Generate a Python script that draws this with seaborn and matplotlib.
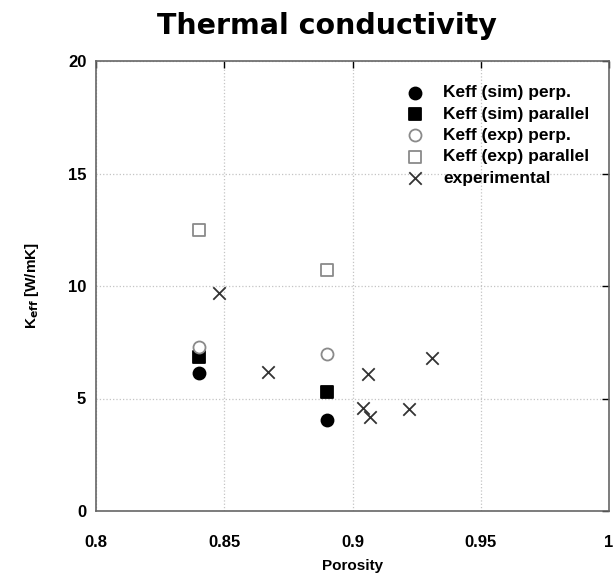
import matplotlib
matplotlib.use("Agg")
import matplotlib.pyplot as plt
import seaborn as sns
import pandas as pd

sim_perp_x = [0.84, 0.89]
sim_perp_y = [6.15, 4.05]
sim_par_x = [0.84, 0.89]
sim_par_y = [6.85, 5.3]
exp_perp_x = [0.84, 0.89]
exp_perp_y = [7.3, 7.0]
exp_par_x = [0.84, 0.89]
exp_par_y = [12.5, 10.7]
expt_x = [0.848, 0.867, 0.906, 0.904, 0.907, 0.922, 0.931]
expt_y = [9.7, 6.2, 6.1, 4.6, 4.2, 4.55, 6.8]

labels = ["Keff (sim) perp.", "Keff (sim) parallel", "Keff (exp) perp.",
          "Keff (exp) parallel", "experimental"]
xticks = [0.8, 0.85, 0.9, 0.95, 1.0]
xticklabels = ["0.8", "0.85", "0.9", "0.95", "1"]
yticks = [0, 5, 10, 15, 20]

sns.set_style("white")
plt.rcParams['font.family'] = ['Liberation Sans', 'DejaVu Sans']
plt.rcParams['text.color'] = 'black'
plt.rcParams['axes.labelcolor'] = 'black'

fig = plt.figure(figsize=(6.15, 5.8), dpi=100)
ax = fig.add_axes([96/615, 1 - 511/580, 513/615, 450/580])

series = [
    (sim_perp_x, sim_perp_y, "o", "black", "black", 75),
    (sim_par_x, sim_par_y, "s", "black", "black", 75),
    (exp_perp_x, exp_perp_y, "o", "white", "#8a8a8a", 75),
    (exp_par_x, exp_par_y, "s", "white", "#8a8a8a", 75),
    (expt_x, expt_y, "x", "#333333", "#333333", 80),
]
for (x, y, m, fc, ec, s), lab in zip(series, labels):
    df = pd.DataFrame({"x": x, "y": y})
    if m == "x":
        sns.scatterplot(data=df, x="x", y="y", ax=ax, marker=m, color=fc,
                        s=s, linewidth=1.3, label=lab, zorder=3)
    else:
        sns.scatterplot(data=df, x="x", y="y", ax=ax, marker=m, facecolor=fc,
                        edgecolor=ec, s=s, linewidth=1.3, label=lab, zorder=3)

ax.set_xlim(0.8, 1.0)
ax.set_ylim(0, 20)
ax.set_xticks(xticks)
ax.set_xticklabels(xticklabels)
ax.set_yticks(yticks)
ax.grid(True, color="#c4c4c4", linestyle=":", linewidth=0.9)
ax.tick_params(direction="in", length=5, labelsize=12, colors="black",
               top=True, right=True, width=1)
ax.tick_params(axis="x", pad=17)
ax.tick_params(axis="y", pad=7)
for lab in ax.get_xticklabels() + ax.get_yticklabels():
    lab.set_fontweight("bold")
for sp in ax.spines.values():
    sp.set_color("#666666")
    sp.set_linewidth(1.2)

ax.set_xlabel("Porosity", fontsize=11, fontweight="bold", labelpad=7)
ax.set_ylabel(r"K$_{\mathbf{eff}}$ [W/mK]", fontsize=11, fontweight="bold", labelpad=19)
fig.text(327/615, 1 - 26/580, "Thermal conductivity", ha="center", va="center",
         fontsize=20.5, fontweight="bold", family="DejaVu Sans", color="black")

leg = ax.legend(loc="upper right", frameon=False,
                prop={"weight": "bold", "size": 12.5}, handletextpad=1.1,
                labelspacing=0.36, borderaxespad=0.0, bbox_to_anchor=(0.975, 0.962),
                handlelength=1.0)

fig.savefig("out.png", dpi=100)
